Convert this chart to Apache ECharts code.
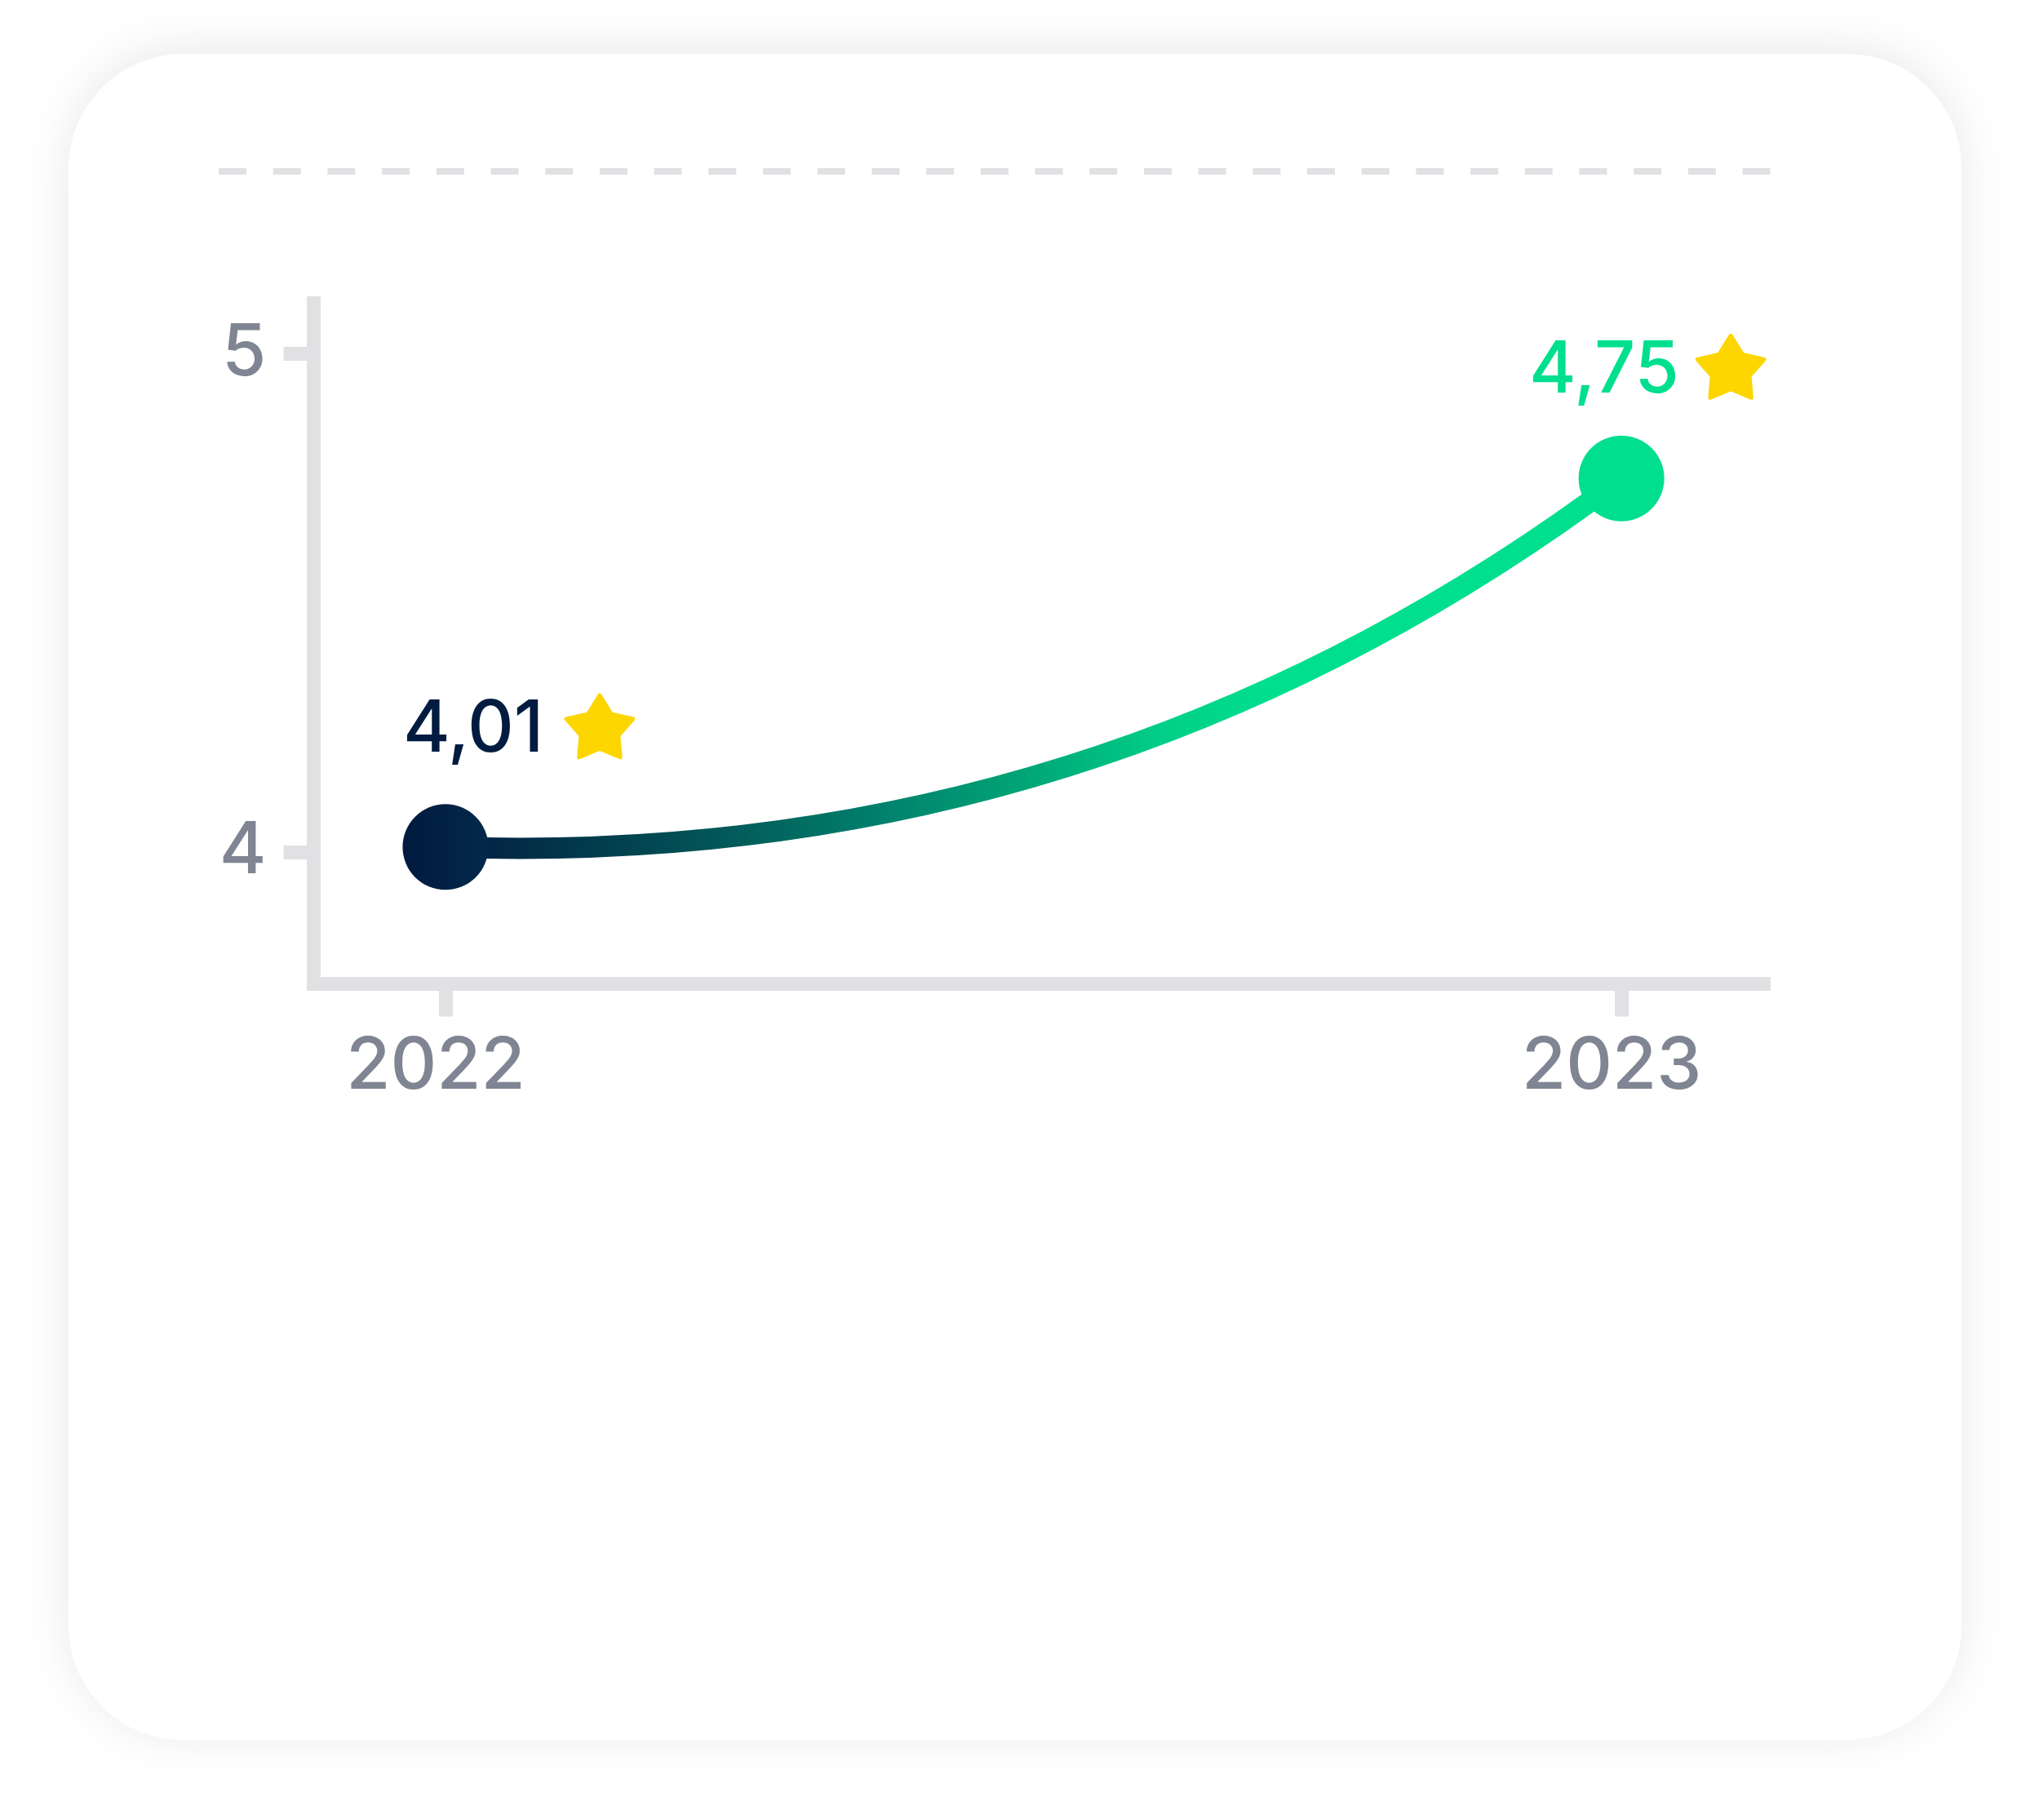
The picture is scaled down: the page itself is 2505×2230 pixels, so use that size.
<!DOCTYPE html>
<html>
<head>
<meta charset="utf-8">
<title>Rating 2022–2023</title>
<script src="https://cdn.jsdelivr.net/npm/echarts@6/dist/echarts.min.js"></script>
<style>
  html, body { margin: 0; padding: 0; background: #ffffff; }
  #chart { width: 2505px; height: 2230px; }
</style>
</head>
<body>
<div id="chart"></div>
<script>
// Values
const years = [2022, 2023];
const ratings = [4.01, 4.75];
const yTicks = [4, 5];
const xTicks = [2022, 2023];

// Palette and type
const NAVY = '#011c40';
const GREEN = '#00df8e';
const STAR = '#fdd600';
const AXIS = '#e1e1e4';
const MUTED = '#7f8592';
const FONT = 'Inter, "Noto Sans", sans-serif';
const WEIGHT = 500;

// Axis extents (in data units)
const X_MIN = 2021.888, X_MAX = 2023.121;
const Y_MIN = 3.7352, Y_MAX = 5.1018;

// Five-pointed star with softened tips, used as a symbol
function starPath(R, r, soft) {
  const pts = [];
  for (let i = 0; i < 10; i++) {
    const a = (-90 + 36 * i) * Math.PI / 180;
    const rad = i % 2 === 0 ? R : r;
    pts.push([rad * Math.cos(a), rad * Math.sin(a)]);
  }
  const lerp = (p, q, t) => [p[0] + (q[0] - p[0]) * t, p[1] + (q[1] - p[1]) * t];
  const f = p => p[0].toFixed(2) + ',' + p[1].toFixed(2);
  let d = '';
  for (let i = 0; i < 10; i++) {
    const p = pts[i];
    if (i % 2 === 0) {
      const a = lerp(p, pts[(i + 9) % 10], soft);
      const b = lerp(p, pts[(i + 1) % 10], soft);
      d += (i === 0 ? 'M' : 'L') + f(a) + ' Q' + f(p) + ' ' + f(b) + ' ';
    } else {
      d += 'L' + f(p) + ' ';
    }
  }
  return 'path://' + d + 'Z';
}

const fmt = v => v.toFixed(2).replace('.', ',');

const navyFill = new echarts.graphic.LinearGradient(0, 0, 1, 0, [
  { offset: 0, color: '#001a3f' },
  { offset: 1, color: '#03294a' }
]);
const pointFills = [navyFill, GREEN];
const labelColors = [NAVY, GREEN];
const labelOffsets = [[-52, -143], [-113, -132]];
const starOffsets = [[189, -148], [134, -137]];

const points = years.map((y, i) => [y, ratings[i]]);

const chart = echarts.init(document.getElementById('chart'), null, { renderer: 'canvas' });

chart.setOption({
  backgroundColor: '#ffffff',
  animation: false,
  graphic: [
    {
      type: 'rect',
      z: -10,
      shape: { x: 84, y: 66, width: 2320, height: 2066, r: 140 },
      style: {
        fill: '#ffffff',
        shadowBlur: 60,
        shadowColor: 'rgba(0,0,0,0.09)',
        shadowOffsetY: -6
      }
    },
    {
      type: 'line',
      z: -5,
      shape: { x1: 268, y1: 210, x2: 2170, y2: 210 },
      style: { stroke: AXIS, lineWidth: 8, lineDash: [34, 32.7] }
    }
  ],
  grid: {
    left: 384.5,
    top: 371.5,
    right: 343.5,
    bottom: 1024.5,
    containLabel: false,
    outerBoundsMode: 'none'
  },
  xAxis: {
    type: 'value',
    min: X_MIN,
    max: X_MAX,
    axisLine: { show: true, onZero: false, lineStyle: { color: AXIS, width: 17, cap: 'square' } },
    axisTick: { show: true, customValues: xTicks, length: 40, lineStyle: { color: AXIS, width: 17 } },
    axisLabel: {
      show: true,
      customValues: xTicks,
      formatter: v => String(v),
      color: MUTED,
      fontFamily: FONT,
      fontSize: 88,
      fontWeight: WEIGHT,
      margin: 58,
      padding: [0, 24, 0, 0]
    },
    splitLine: { show: false }
  },
  yAxis: {
    type: 'value',
    min: Y_MIN,
    max: Y_MAX,
    axisLine: { show: true, onZero: false, lineStyle: { color: AXIS, width: 17, cap: 'square' } },
    axisTick: { show: true, customValues: yTicks, length: 37, lineStyle: { color: AXIS, width: 17 } },
    axisLabel: {
      show: true,
      customValues: yTicks,
      formatter: v => String(v),
      color: MUTED,
      fontFamily: FONT,
      fontSize: 88,
      fontWeight: WEIGHT,
      margin: 58
    },
    splitLine: { show: false }
  },
  series: [
    {
      // curved trend between the two yearly ratings
      type: 'lines',
      coordinateSystem: 'cartesian2d',
      z: 2,
      silent: true,
      data: [{ coords: points }],
      lineStyle: {
        width: 26,
        opacity: 1,
        curveness: -0.177,
        color: new echarts.graphic.LinearGradient(0, 0, 1, 0, [
          { offset: 0, color: '#001c40' },
          { offset: 0.05, color: '#022745' },
          { offset: 0.21, color: '#024f55' },
          { offset: 0.37, color: '#01806c' },
          { offset: 0.49, color: '#00a476' },
          { offset: 0.61, color: '#01cf88' },
          { offset: 0.70, color: GREEN },
          { offset: 1, color: GREEN }
        ])
      }
    },
    {
      // rating dots with their value labels
      type: 'scatter',
      z: 5,
      symbol: 'circle',
      symbolSize: 105,
      data: points.map((p, i) => ({
        value: p,
        itemStyle: { color: pointFills[i], opacity: 1 },
        label: {
          show: true,
          position: 'inside',
          align: 'left',
          verticalAlign: 'middle',
          offset: labelOffsets[i],
          formatter: () => fmt(ratings[i]),
          color: labelColors[i],
          fontFamily: FONT,
          fontSize: 88,
          fontWeight: WEIGHT
        }
      }))
    },
    {
      // star markers beside each rating
      type: 'scatter',
      z: 6,
      silent: true,
      symbol: starPath(50, 28, 0.17),
      symbolSize: [87, 81],
      itemStyle: { color: STAR, opacity: 1 },
      data: points.map((p, i) => ({ value: p, symbolOffset: starOffsets[i] }))
    }
  ]
});
</script>
</body>
</html>
